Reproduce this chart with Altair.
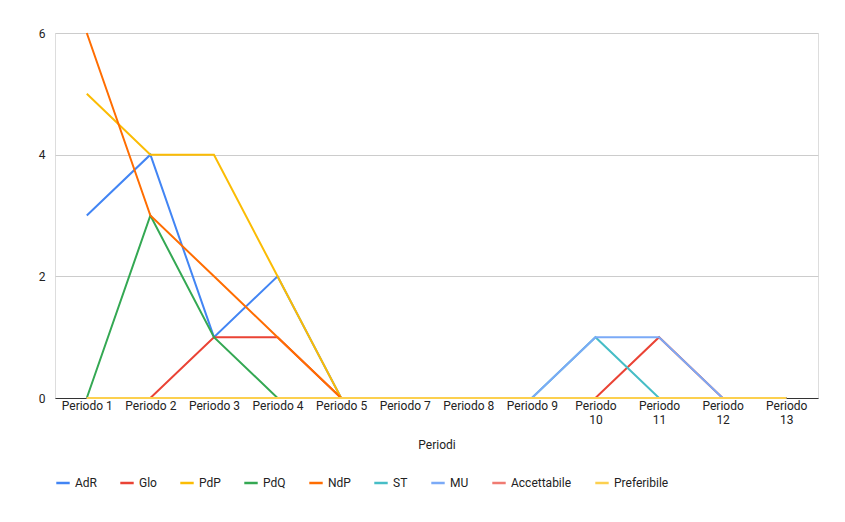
import altair as alt
import pandas as pd

periods = ["Periodo 1","Periodo 2","Periodo 3","Periodo 4","Periodo 5","Periodo 7","Periodo 8","Periodo 9","Periodo 10","Periodo 11","Periodo 12","Periodo 13"]
series_names = ["AdR","Glo","PdP","PdQ","NdP","ST","MU","Accettabile","Preferibile"]
colors = ["#4285F4","#EA4335","#FBBC04","#34A853","#FF6D01","#46BDC6","#7BAAF7","#F07B72","#FCD04F"]
AdR = [3,4,1,2,0,0,0,0,0,0,0,0]
Glo = [0,0,1,1,0,0,0,0,0,1,0,0]
PdP = [5,4,4,2,0,0,0,0,0,0,0,0]
PdQ = [0,3,1,0,0,0,0,0,0,0,0,0]
NdP = [6,3,2,1,0,0,0,0,0,0,0,0]
ST = [0,0,0,0,0,0,0,0,1,0,0,0]
MU = [0,0,0,0,0,0,0,0,1,1,0,0]
Accettabile = [0]*12
Preferibile = [0]*12
vals = [AdR,Glo,PdP,PdQ,NdP,ST,MU,Accettabile,Preferibile]

rows = []
for name, v in zip(series_names, vals):
    for p, y in zip(periods, v):
        rows.append({"Periodi": p, "serie": name, "valore": y})
df = pd.DataFrame(rows)

chart = alt.Chart(df).mark_line(strokeWidth=2).encode(
    x=alt.X("Periodi:N", sort=periods, scale=alt.Scale(type="point", padding=0.5),
            axis=alt.Axis(labelAngle=0, labelColor="#222", labelFontSize=12, titleFontSize=12,
                          titleFontWeight="normal", titleColor="#222", ticks=False, domainColor="#333",
                          titlePadding=14,
                          labelExpr="length(datum.label) > 9 ? split(datum.label, ' ') : datum.label")),
    y=alt.Y("valore:Q", title=None, scale=alt.Scale(domain=[0,6]),
            axis=alt.Axis(values=[0,2,4,6], labelColor="#222", labelFontSize=12, ticks=False,
                          domain=False, gridColor="#ccc", labelPadding=10)),
    color=alt.Color("serie:N", sort=series_names,
                    scale=alt.Scale(domain=series_names, range=colors),
                    legend=alt.Legend(orient="bottom", title=None, symbolType="stroke",
                                      symbolStrokeWidth=2.5, labelFontSize=12, labelColor="#222",
                                      columnPadding=18, symbolSize=180, offset=25)),
    order=alt.Order("serie:N")
).properties(
    width=763, height=365,
    autosize=alt.AutoSizeParams(type="none"),
    padding={"left": 47, "top": 25, "right": 19, "bottom": 100}
).configure_view(stroke=None).configure(font="Roboto")

chart.save("out.html", embed_options={"renderer": "svg", "actions": False})
